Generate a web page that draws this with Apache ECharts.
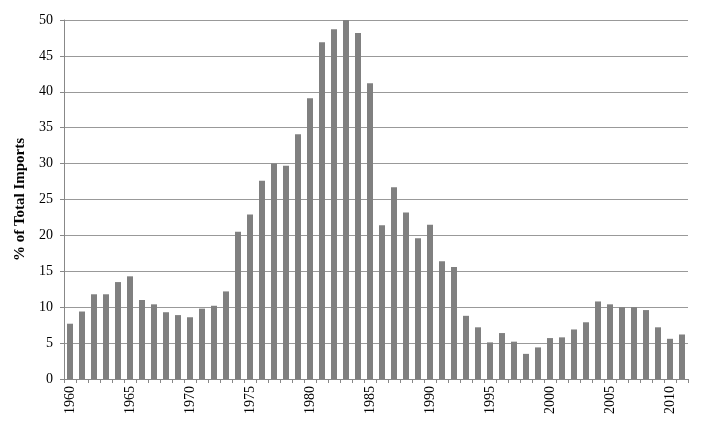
<!DOCTYPE html>
<html>
<head>
<meta charset="utf-8">
<script src="https://cdn.jsdelivr.net/npm/echarts@6/dist/echarts.min.js"></script>
<style>
  html, body { margin: 0; padding: 0; background: #fff; }
  #chart { width: 709px; height: 440px; }
</style>
</head>
<body>
<div id="chart"></div>
<script>
// years 1960 - 2011
const years = [
  '1960', '1961', '1962', '1963', '1964', '1965', '1966', '1967', '1968', '1969',
  '1970', '1971', '1972', '1973', '1974', '1975', '1976', '1977', '1978', '1979',
  '1980', '1981', '1982', '1983', '1984', '1985', '1986', '1987', '1988', '1989',
  '1990', '1991', '1992', '1993', '1994', '1995', '1996', '1997', '1998', '1999',
  '2000', '2001', '2002', '2003', '2004', '2005', '2006', '2007', '2008', '2009',
  '2010', '2011'
];
// % of total imports
const shares = [
  7.7, 9.4, 11.8, 11.8, 13.5, 14.3, 11.0, 10.4, 9.3, 8.9,
  8.6, 9.8, 10.2, 12.2, 20.5, 22.9, 27.6, 30.0, 29.7, 34.1,
  39.1, 46.9, 48.7, 50.0, 48.2, 41.2, 21.4, 26.7, 23.2, 19.6,
  21.5, 16.4, 15.6, 8.8, 7.2, 5.1, 6.4, 5.2, 3.5, 4.4,
  5.7, 5.8, 6.9, 7.9, 10.8, 10.4, 10.0, 10.0, 9.6, 7.2,
  5.6, 6.2
];
const labeledYears = ['1960', '1965', '1970', '1975', '1980', '1985', '1990', '1995', '2000', '2005', '2010'];

const chart = echarts.init(document.getElementById('chart'));

const font = 'Liberation Serif, Times New Roman, serif';

const option = {
  animation: false,
  grid: {
    left: 64,
    right: 21,
    top: 20,
    bottom: 61
  },
  xAxis: {
    type: 'category',
    data: years,
    axisLine: { lineStyle: { color: '#888', width: 1 } },
    axisTick: {
      show: true,
      alignWithLabel: false,
      interval: 0,
      length: 4,
      lineStyle: { color: '#888' }
    },
    axisLabel: {
      interval: 0,
      rotate: 90,
      margin: 7,
      fontFamily: font,
      fontSize: 14,
      color: '#000',
      formatter: v => (labeledYears.includes(v) ? v : '')
    }
  },
  yAxis: {
    type: 'value',
    min: 0,
    max: 50,
    interval: 5,
    name: '% of Total Imports',
    nameLocation: 'middle',
    nameGap: 33,
    nameTextStyle: {
      fontFamily: font,
      fontSize: 15,
      fontWeight: 'bold',
      color: '#000'
    },
    axisLine: { show: true, lineStyle: { color: '#888', width: 1 } },
    axisTick: { show: true, length: 4, lineStyle: { color: '#888' } },
    axisLabel: {
      margin: 11,
      fontFamily: font,
      fontSize: 14,
      color: '#000'
    },
    splitLine: { lineStyle: { color: '#999', width: 1 } }
  },
  series: [
    {
      type: 'bar',
      data: shares,
      barWidth: '50%',
      itemStyle: { color: '#808080' }
    }
  ]
};

chart.setOption(option);
</script>
</body>
</html>
